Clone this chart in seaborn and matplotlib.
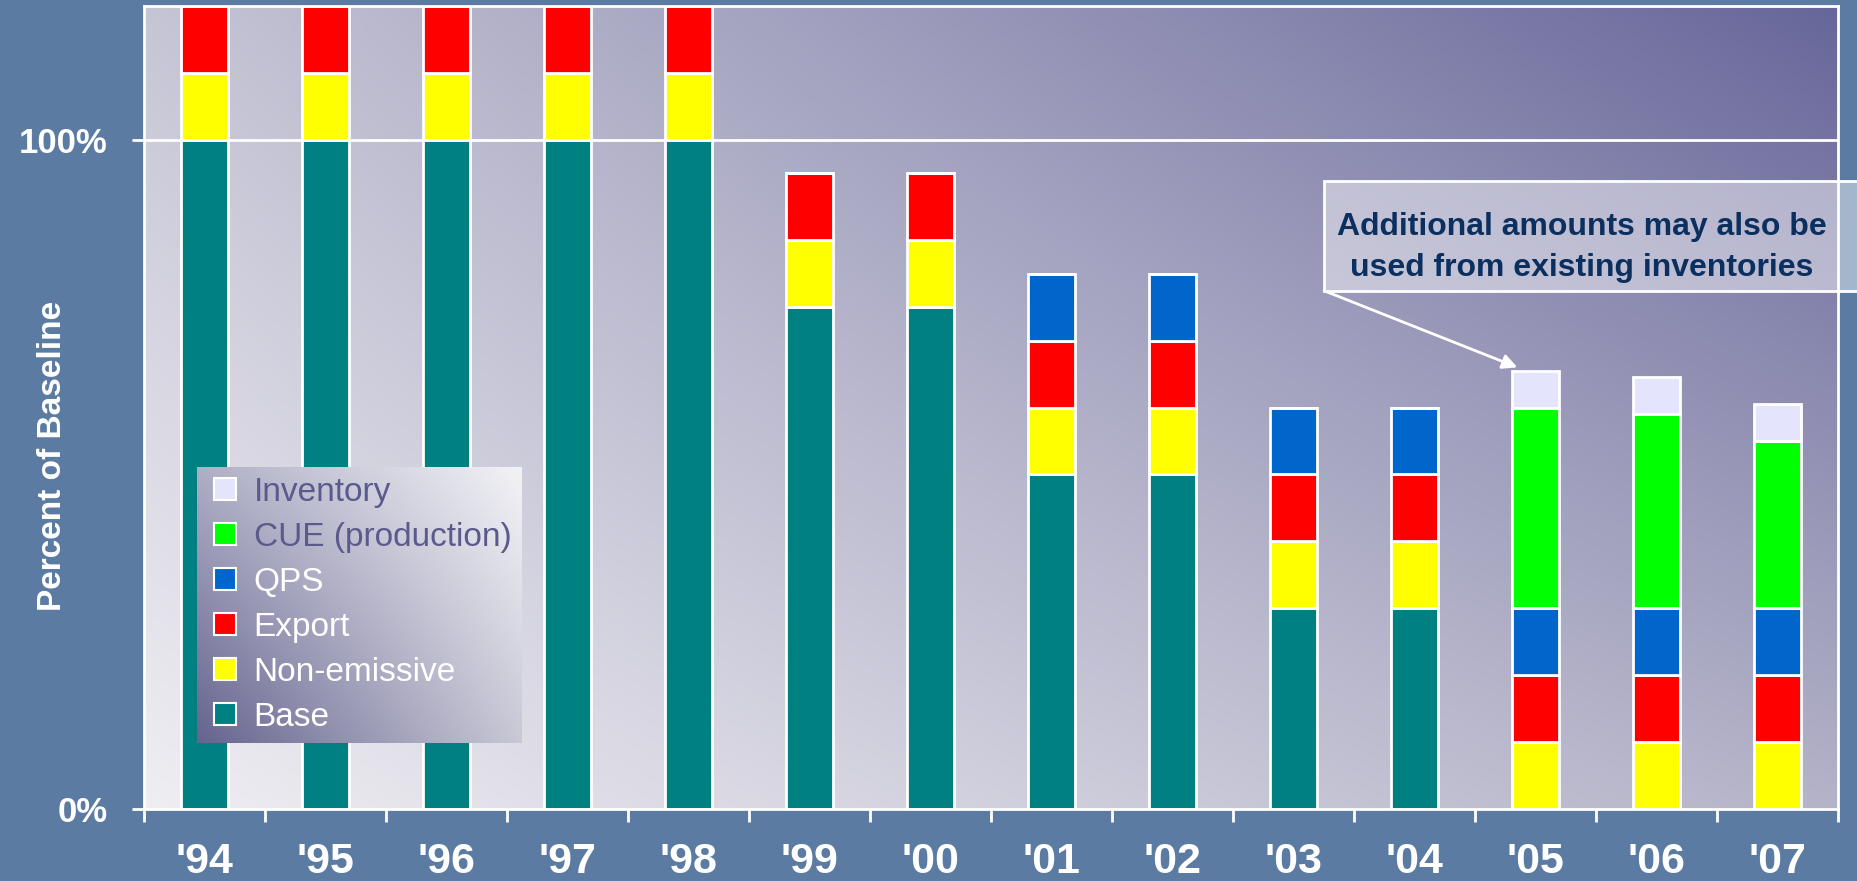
import matplotlib
matplotlib.use("Agg")
import matplotlib.pyplot as plt
import numpy as np
import pandas as pd
import seaborn as sns
from matplotlib.lines import Line2D
from matplotlib.patches import Rectangle
from matplotlib.colors import to_rgb

# data (percent of baseline)
years = ["'94", "'95", "'96", "'97", "'98", "'99", "'00", "'01", "'02", "'03", "'04", "'05", "'06", "'07"]
base = [100, 100, 100, 100, 100, 75, 75, 50, 50, 30, 30, 0, 0, 0]
non_emissive = [10, 10, 10, 10, 10, 10, 10, 10, 10, 10, 10, 10, 10, 10]
export = [10, 10, 10, 10, 10, 10, 10, 10, 10, 10, 10, 10, 10, 10]
qps = [0, 0, 0, 0, 0, 0, 0, 10, 10, 10, 10, 10, 10, 10]
cue = [0, 0, 0, 0, 0, 0, 0, 0, 0, 0, 0, 30, 29, 25]
inventory = [0, 0, 0, 0, 0, 0, 0, 0, 0, 0, 0, 5.5, 5.5, 5.5]

layers = ["Base", "Non-emissive", "Export", "QPS", "CUE (production)", "Inventory"]
colors = ["#008080", "#ffff00", "#ff0000", "#0066cc", "#00ff00", "#e4e4fc"]

data = pd.DataFrame({"year": years, "Base": base, "Non-emissive": non_emissive,
                     "Export": export, "QPS": qps, "CUE (production)": cue,
                     "Inventory": inventory})

BG = "#5b7ba3"


def gradient(h, w, c00, c10, c01, c11):
    # bilinear blend of corner colours; c00 = bottom-left, c11 = top-right
    u = np.linspace(0, 1, w)[None, :, None]
    v = np.linspace(1, 0, h)[:, None, None]
    c00, c10, c01, c11 = [np.array(to_rgb(c)) for c in (c00, c10, c01, c11)]
    return (c00 * (1 - u) * (1 - v) + c10 * u * (1 - v)
            + c01 * (1 - u) * v + c11 * u * v)


def main():
    fig = plt.figure(figsize=(18.57, 8.81), dpi=100, facecolor=BG)
    ax = fig.add_axes([0.0775, 0.0817, 0.9123, 0.9115])

    ax.imshow(gradient(200, 400, "#efeef3", "#b4b3c8", "#c6c5d5", "#67669a"),
              extent=[0, 1, 0, 1], transform=ax.transAxes, aspect="auto", zorder=0)
    ax.axhline(100, color="white", lw=2, zorder=0.5)

    bottom = np.zeros(len(years))
    for name, col in zip(layers, colors):
        vals = data[name].to_numpy(dtype=float)
        sns.barplot(data=data, x="year", y=name, order=years, color=col, saturation=1,
                    width=0.39, bottom=bottom, edgecolor="white", linewidth=2,
                    errorbar=None, ax=ax, zorder=2)
        bottom = bottom + vals

    ax.set_xlim(-0.5, len(years) - 0.5)
    ax.set_ylim(0, 120)
    ax.set_xlabel("")
    ax.set_ylabel("Percent of Baseline", color="white", fontsize=24, fontweight="bold",
                  family="Liberation Sans")
    ax.yaxis.set_label_coords(-0.045, 0.44)

    ax.set_yticks([0, 100])
    ax.set_yticklabels(["0%", "100%"])
    ax.tick_params(axis="y", colors="white", length=9, width=2, pad=17)
    for t in ax.get_yticklabels():
        t.set_fontsize(25)
        t.set_fontweight("bold")
        t.set_family("Liberation Sans")

    ax.set_xticks(np.arange(len(years)))
    ax.set_xticklabels(years)
    ax.set_xticks(np.arange(len(years) + 1) - 0.5, minor=True)
    ax.tick_params(axis="x", which="major", length=0, pad=24, colors="white")
    ax.tick_params(axis="x", which="minor", length=9, width=2, color="white")
    for t in ax.get_xticklabels():
        t.set_fontsize(31)
        t.set_fontweight("bold")
        t.set_family(["Liberation Sans Narrow", "Liberation Sans"])

    for s in ax.spines.values():
        s.set_color("white")
        s.set_linewidth(2)

    # legend, stacked order reversed
    handles = [Line2D([], [], ls="none", marker="s", markersize=15.5, markerfacecolor=c,
                      markeredgecolor="white", markeredgewidth=1.5) for c in colors[::-1]]
    leg = ax.legend(handles, layers[::-1], loc="lower left",
                    bbox_to_anchor=(0.0313, 0.0822), borderaxespad=0,
                    prop={"family": "Liberation Sans", "size": 24},
                    handlelength=1.1, handletextpad=0.3,
                    labelspacing=0.42, borderpad=0.3, fancybox=False,
                    framealpha=0, edgecolor="white")
    leg.get_frame().set_linewidth(2)
    leg.set_zorder(6)
    for i, t in enumerate(leg.get_texts()):
        t.set_color("#5a5a8c" if i < 2 else "white")

    fig.canvas.draw()
    bb = leg.get_window_extent().transformed(ax.transAxes.inverted())
    ax.imshow(gradient(100, 100, "#66648f", "#c8c8d6", "#aeaec6", "#f2f2f6"),
              extent=[bb.x0, bb.x1, bb.y0, bb.y1], transform=ax.transAxes,
              aspect="auto", zorder=5, clip_on=False)
    ax.set_xlim(-0.5, len(years) - 0.5)
    ax.set_ylim(0, 120)

    # call-out box
    fig.patches.append(Rectangle((0.713, 0.670), 0.30, 0.125, transform=fig.transFigure,
                                 facecolor=(1, 1, 1, 0.45), edgecolor="white", lw=2,
                                 zorder=7))
    fig.text(0.852, 0.719, "Additional amounts may also be\nused from existing inventories",
             ha="center", va="center", color="#0b2f5f", fontsize=23, fontweight="bold",
             family="Liberation Sans", linespacing=1.5, zorder=8)
    ax.annotate("", xy=(10.85, 66), xytext=(0.713, 0.670), textcoords="figure fraction",
                arrowprops=dict(arrowstyle="-|>", color="white", lw=2,
                                mutation_scale=22, shrinkA=0, shrinkB=0), zorder=8)

    fig.savefig("out.png", dpi=100, facecolor=BG)


main()
